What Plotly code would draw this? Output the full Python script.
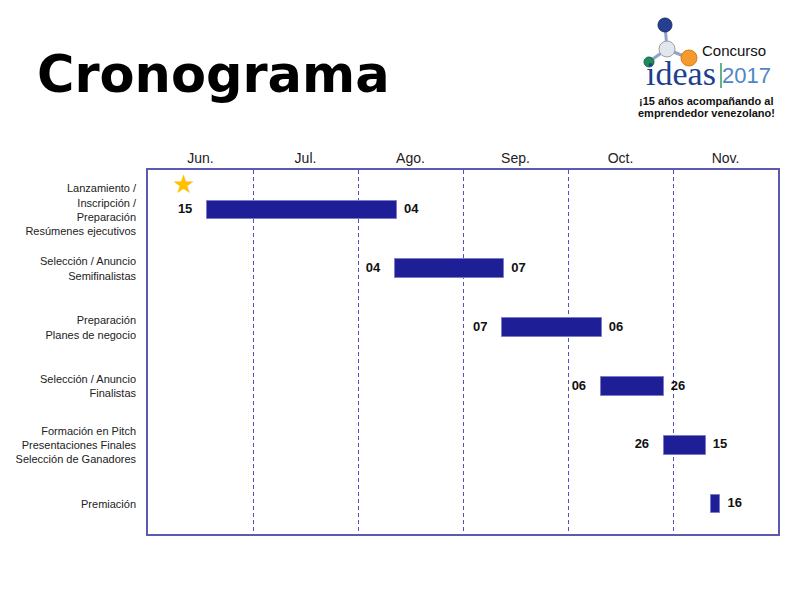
import plotly.graph_objects as go

# ---------------- data ----------------
tasks = [
    "Lanzamiento /<br>Inscripción /<br>Preparación<br>Resúmenes ejecutivos",
    "Selección / Anuncio<br>Semifinalistas",
    "Preparación<br>Planes de negocio",
    "Selección / Anuncio<br>Finalistas",
    "Formación en Pitch<br>Presentaciones Finales<br>Selección de Ganadores",
    "Premiación",
]
# positions in month units (0 = start of June, 6 = end of November)
start_pos = [0.56, 2.35, 3.37, 4.31, 4.91, 5.36]
end_pos = [2.37, 3.39, 4.32, 4.91, 5.31, 5.45]
start_labels = ["15", "04", "07", "06", "26", ""]
end_labels = ["04", "07", "06", "26", "15", "16"]
months = ["Jun.", "Jul.", "Ago.", "Sep.", "Oct.", "Nov."]
month_centers = [0.5, 1.5, 2.5, 3.5, 4.5, 5.5]
month_bounds = [1, 2, 3, 4, 5]

FONT = "Liberation Sans, Arial, sans-serif"
BAR = "#1e1e96"
FRAME = "#5a5ab4"

OFF = 8  # page offset of the figure inside the browser window
# plot area in screen pixels: left 148, right 778, top 170, bottom 534
L, R, T, B = 148 - OFF, 778 - OFF, 170 - OFF, 534 - OFF
W, H = 800, 600


def fx(px):
    return (px - OFF - L) / (R - L)


def fy(py):
    return (B - (py - OFF)) / (B - T)


fig = go.Figure()

fig.add_trace(go.Bar(
    y=tasks,
    x=[e - s for s, e in zip(start_pos, end_pos)],
    base=start_pos,
    orientation="h",
    width=0.32,
    marker=dict(color=BAR, line=dict(color="#7c7cc8", width=1)),
    hoverinfo="skip",
    showlegend=False,
))

fig.add_trace(go.Scatter(
    y=tasks, x=start_pos, text=start_labels, mode="text",
    textposition="middle left",
    textfont=dict(family=FONT, size=13, color="#111111"),
    texttemplate="<b>%{text}</b>    ",
    hoverinfo="skip", showlegend=False,
))
fig.add_trace(go.Scatter(
    y=tasks, x=end_pos, text=end_labels, mode="text",
    textposition="middle right",
    textfont=dict(family=FONT, size=13, color="#111111"),
    texttemplate="  <b>%{text}</b>",
    hoverinfo="skip", showlegend=False,
))

annotations = []
# star marking the launch
annotations.append(dict(
    x=start_pos[0], y=tasks[0], xref="x", yref="y",
    text="★", showarrow=False, xshift=-23, yshift=26,
    font=dict(size=26, color="#ffc000", family="DejaVu Sans"),
))
# title
annotations.append(dict(
    x=fx(35), y=fy(74), xref="paper", yref="paper", xanchor="left", yanchor="middle",
    text="<b>Cronograma</b>", showarrow=False,
    font=dict(family="DejaVu Sans, sans-serif", size=51, color="#000000"),
))


def ptxt(x, y, text, size, color, family=FONT):
    annotations.append(dict(x=fx(x), y=fy(y), xref="paper", yref="paper",
                            xanchor="center", yanchor="middle", text=text,
                            showarrow=False,
                            font=dict(family=family, size=size, color=color)))


# logo texts
ptxt(734, 50, "Concurso", 15, "#111111")
ptxt(681, 73, "ideas", 34, "#1d3f8f", "Liberation Serif, serif")
ptxt(746, 75, "2017", 22, "#4f86c6")
ptxt(706, 101, "<b>¡15 años acompañando al</b>", 11, "#111111")
ptxt(706, 113, "<b>emprendedor venezolano!</b>", 11, "#111111")

shapes = []


def line(x0, y0, x1, y1, color, w):
    shapes.append(dict(type="line", xref="paper", yref="paper",
                       x0=fx(x0), y0=fy(y0), x1=fx(x1), y1=fy(y1),
                       line=dict(color=color, width=w), layer="above"))


def circ(cx, cy, r, fill, edge):
    shapes.append(dict(type="circle", xref="paper", yref="paper",
                       x0=fx(cx - r), x1=fx(cx + r), y0=fy(cy + r), y1=fy(cy - r),
                       fillcolor=fill, line=dict(color=edge, width=1), layer="above"))


line(665, 25, 667, 49, "#8fa3c8", 3)
line(667, 49, 688, 58, "#8fa3c8", 3)
line(667, 49, 650, 61, "#8fa3c8", 3)
circ(665, 25, 7, "#25408f", "#1a2f6e")
circ(667, 49, 8, "#e3e6ec", "#9aa0aa")
circ(689, 58, 8, "#f59a2c", "#d97e14")
circ(649, 62, 5, "#1f8a5a", "#166a44")
line(721, 63, 721, 88, "#2e9a5e", 1.5)

fig.update_layout(
    width=W, height=H,
    margin=dict(l=L, r=W - R, t=T, b=H - B, autoexpand=False),
    paper_bgcolor="white", plot_bgcolor="white",
    font=dict(family=FONT, color="#222222"),
    bargap=0,
    annotations=annotations,
    shapes=shapes,
    xaxis=dict(
        range=[0, 6], side="top",
        tickmode="array", tickvals=month_centers, ticktext=months,
        tickfont=dict(family=FONT, size=14, color="#222222"),
        ticks="", showgrid=False, zeroline=False,
        showline=True, mirror=True, linecolor=FRAME, linewidth=1.5,
        minor=dict(tickmode="array", tickvals=month_bounds, showgrid=True,
                   gridcolor="#5050c0", griddash="4px,3px", gridwidth=1, ticks=""),
        fixedrange=True,
    ),
    yaxis=dict(
        type="category", categoryorder="array", categoryarray=tasks,
        range=[5.51, -0.68],
        tickfont=dict(family=FONT, size=11, color="#222222"),
        ticks="", ticklabelstandoff=8, showgrid=False, zeroline=False,
        showline=True, mirror=True, linecolor=FRAME, linewidth=1.5,
        fixedrange=True,
    ),
)

fig.write_html("out.html")
